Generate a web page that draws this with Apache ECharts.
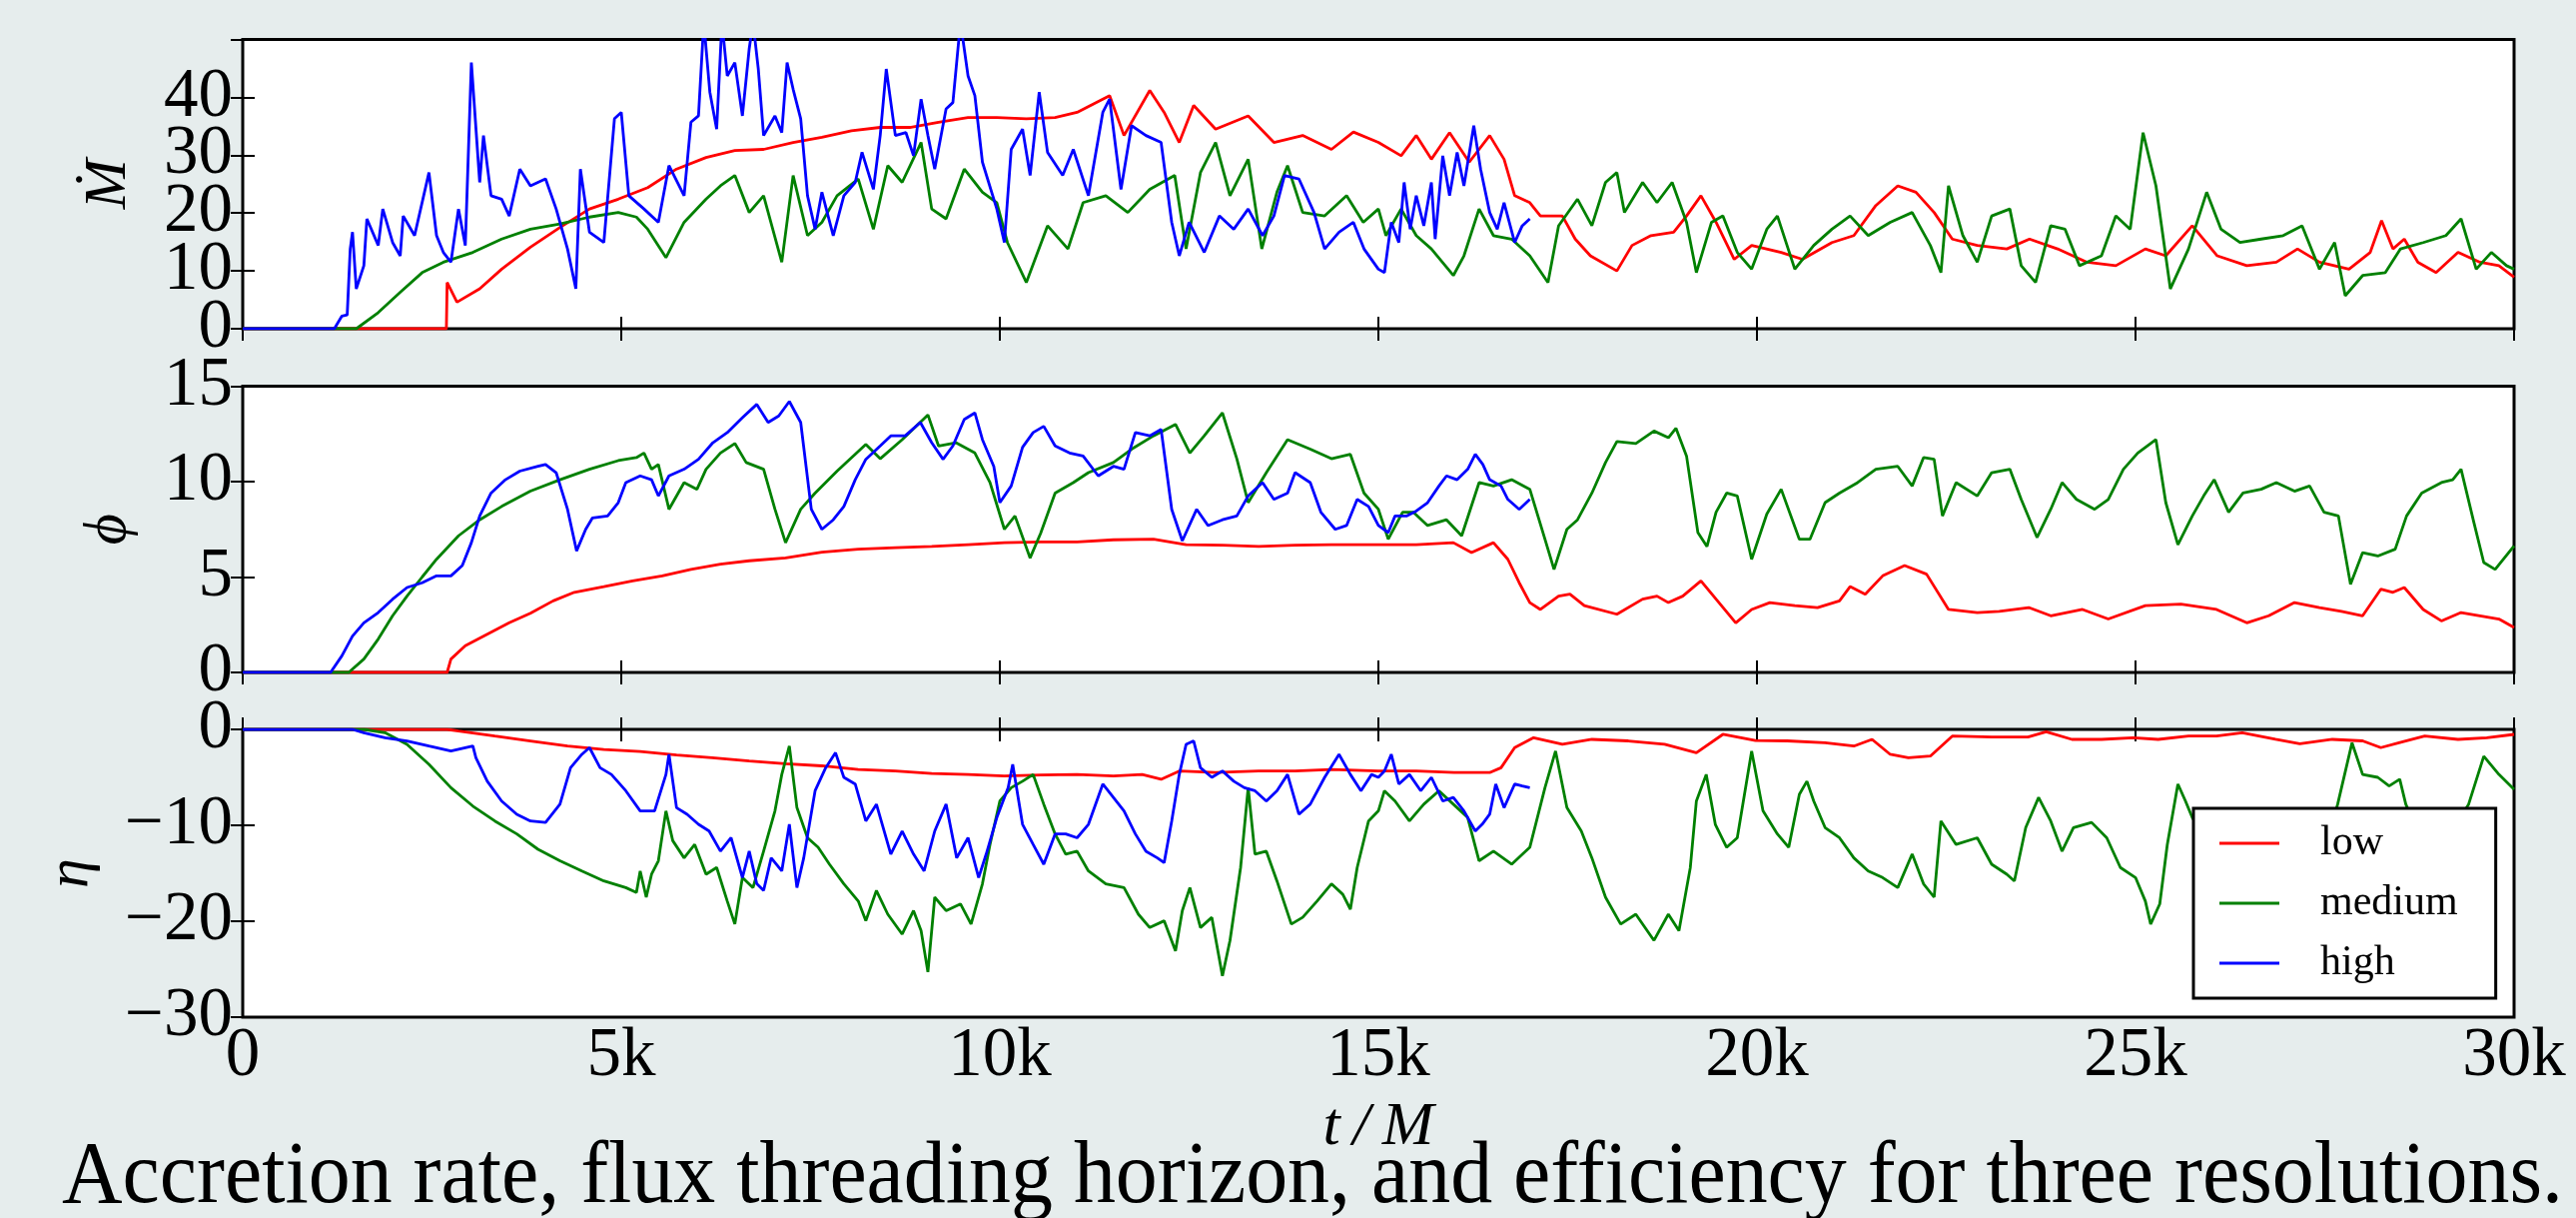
<!DOCTYPE html>
<html>
<head>
<meta charset="utf-8">
<script src="https://cdn.jsdelivr.net/npm/echarts@6/dist/echarts.min.js"></script>
<style>
html, body { margin: 0; padding: 0; background: #e6eded; }
#chart { width: 2579px; height: 1219px; }
</style>
</head>
<body>
<div id="chart"></div>
<script>
// time in units of 1000 M
const resolutions = ['low', 'medium', 'high'];
const colors = ['#ff0000', '#008000', '#0000ff'];
const xTicks = [0, 5, 10, 15, 20, 25, 30];

// accretion rate (Mdot)
const mdotLow = [[0,0],[2.69,0],[2.7,8.0],[2.83,4.6],[3.13,6.9],[3.42,10.3],[3.8,14.1],[4.19,17.5],[4.58,20.7],[4.96,22.4],[5.35,24.4],[5.73,27.6],[6.12,29.6],[6.5,30.8],[6.88,31.0],[7.27,32.2],[7.65,33.1],[8.04,34.2],[8.42,34.8],[8.81,34.8],[9.19,35.7],[9.58,36.5],[9.96,36.5],[10.35,36.3],[10.73,36.5],[11.02,37.4],[11.45,40.3],[11.64,33.4],[11.98,41.2],[12.17,37.4],[12.37,32.2],[12.56,38.6],[12.85,34.5],[13.28,36.8],[13.62,32.2],[14.0,33.4],[14.38,31.0],[14.67,34.0],[15.0,32.2],[15.3,29.9],[15.5,33.4],[15.7,29.3],[15.94,33.9],[16.2,28.8],[16.47,33.4],[16.66,29.3],[16.8,23.0],[17.0,21.8],[17.14,19.5],[17.43,19.5],[17.6,15.5],[17.8,12.6],[18.15,10.0],[18.35,14.4],[18.6,16.1],[18.9,16.7],[19.07,19.5],[19.26,23.0],[19.46,18.4],[19.7,12.0],[19.93,14.4],[20.32,13.2],[20.6,12.0],[20.99,14.9],[21.28,16.1],[21.57,21.3],[21.86,24.7],[22.1,23.6],[22.34,20.1],[22.58,15.5],[22.91,14.4],[23.3,13.8],[23.6,15.5],[23.97,13.8],[24.36,11.5],[24.74,10.9],[25.13,13.8],[25.4,12.6],[25.75,17.8],[26.08,12.6],[26.47,10.9],[26.86,11.5],[27.14,13.8],[27.43,11.5],[27.82,10.3],[28.1,13.2],[28.25,18.7],[28.4,13.8],[28.55,15.5],[28.73,11.5],[28.97,9.7],[29.26,13.2],[29.55,11.5],[29.8,10.9],[30.0,8.9]];
const mdotMed = [[0,0],[1.5,0],[1.79,2.8],[2.08,6.3],[2.37,9.7],[2.65,11.5],[3.04,13.2],[3.42,15.5],[3.8,17.2],[4.19,18.1],[4.58,19.3],[4.96,20.1],[5.2,19.3],[5.35,17.2],[5.59,12.3],[5.83,18.4],[6.12,22.4],[6.31,24.7],[6.5,26.5],[6.69,20.1],[6.88,23.0],[7.12,11.5],[7.27,26.5],[7.46,16.1],[7.65,18.4],[7.85,23.0],[8.13,25.9],[8.33,17.2],[8.52,28.2],[8.71,25.3],[8.96,32.2],[9.1,20.7],[9.29,19.0],[9.53,27.6],[9.77,23.6],[9.96,21.8],[10.1,14.9],[10.35,8.0],[10.63,17.8],[10.9,13.8],[11.1,21.8],[11.4,23.0],[11.69,20.1],[11.98,24.1],[12.31,26.5],[12.46,13.8],[12.65,27.0],[12.85,32.2],[13.04,23.0],[13.28,29.3],[13.46,13.8],[13.66,23.6],[13.8,28.2],[14.0,20.1],[14.29,19.5],[14.58,23.0],[14.8,18.4],[15.0,20.7],[15.1,16.1],[15.3,20.7],[15.5,16.1],[15.7,13.8],[15.99,9.2],[16.13,12.6],[16.33,20.7],[16.52,16.1],[16.76,15.5],[17.0,12.6],[17.24,8.0],[17.38,17.8],[17.63,22.4],[17.82,17.8],[18.0,25.3],[18.15,27.0],[18.25,20.1],[18.49,25.3],[18.68,21.8],[18.88,25.3],[19.07,18.4],[19.2,9.7],[19.4,18.4],[19.55,19.5],[19.74,13.2],[19.93,10.3],[20.13,17.2],[20.27,19.5],[20.5,10.3],[20.75,14.4],[20.99,17.2],[21.23,19.5],[21.47,16.1],[21.76,18.4],[22.05,20.1],[22.29,14.4],[22.43,9.7],[22.53,24.7],[22.72,16.1],[22.91,11.5],[23.1,19.5],[23.34,20.7],[23.49,10.9],[23.68,8.0],[23.88,17.8],[24.07,17.2],[24.26,10.9],[24.55,12.6],[24.74,19.5],[24.93,17.2],[25.1,33.9],[25.27,24.7],[25.46,6.9],[25.7,13.8],[25.94,23.6],[26.13,17.2],[26.38,14.9],[26.66,15.5],[26.95,16.1],[27.2,17.8],[27.43,10.3],[27.63,14.9],[27.77,5.7],[28.0,9.2],[28.3,9.7],[28.5,13.8],[28.8,14.9],[29.1,16.1],[29.3,19.0],[29.5,10.3],[29.7,13.2],[29.9,10.9],[30.0,10.3]];
const mdotHigh = [[0,0],[1.21,0],[1.31,2.2],[1.38,2.4],[1.42,13.8],[1.45,16.7],[1.5,6.9],[1.6,10.9],[1.64,19.0],[1.79,14.4],[1.85,20.7],[1.98,14.9],[2.08,12.6],[2.12,19.5],[2.27,16.1],[2.46,27.0],[2.56,16.1],[2.65,13.2],[2.75,11.5],[2.85,20.7],[2.94,14.4],[3.02,46.0],[3.13,25.3],[3.18,33.4],[3.28,23.0],[3.42,22.4],[3.52,19.5],[3.66,27.6],[3.8,24.7],[4.0,25.9],[4.14,20.7],[4.29,13.8],[4.4,6.9],[4.46,27.6],[4.58,16.7],[4.77,14.9],[4.91,36.3],[5.0,37.4],[5.1,23.0],[5.3,20.7],[5.49,18.4],[5.63,28.2],[5.83,23.0],[5.92,35.7],[6.02,36.8],[6.09,53],[6.17,40.9],[6.26,34.5],[6.33,53],[6.4,43.7],[6.5,46.0],[6.6,36.8],[6.69,48.4],[6.74,53],[6.81,44.9],[6.88,33.4],[7.03,36.8],[7.12,33.9],[7.19,46.0],[7.27,41.4],[7.37,36.3],[7.46,23.0],[7.56,17.2],[7.65,23.6],[7.8,16.1],[7.94,23.0],[8.09,25.3],[8.18,30.5],[8.33,24.1],[8.42,33.4],[8.5,44.9],[8.62,33.4],[8.76,33.9],[8.86,29.9],[8.96,39.7],[9.05,33.4],[9.14,27.6],[9.29,38.0],[9.38,39.1],[9.48,53],[9.58,43.7],[9.67,40.3],[9.77,28.8],[9.96,20.7],[10.06,14.9],[10.15,31.0],[10.3,34.5],[10.4,26.5],[10.52,40.9],[10.63,30.5],[10.83,26.5],[10.97,31.0],[11.17,23.0],[11.36,37.4],[11.45,39.7],[11.6,24.1],[11.74,35.1],[11.93,33.4],[12.13,32.2],[12.27,18.4],[12.37,12.6],[12.5,18.4],[12.7,13.2],[12.9,19.5],[13.09,17.2],[13.28,20.7],[13.47,16.1],[13.62,19.5],[13.76,26.5],[13.95,25.9],[14.15,20.1],[14.29,13.8],[14.48,16.7],[14.67,18.4],[14.81,13.8],[15.0,10.3],[15.08,9.7],[15.17,18.4],[15.27,14.9],[15.34,25.3],[15.42,17.2],[15.5,23.0],[15.6,17.8],[15.7,25.3],[15.75,15.5],[15.85,29.9],[15.94,23.0],[16.04,30.5],[16.13,24.7],[16.26,35.1],[16.35,27.6],[16.47,20.1],[16.57,17.2],[16.66,21.8],[16.8,14.9],[16.9,17.8],[17.0,19.0]];

// flux threading the horizon (phi)
const phiLow = [[0,0],[2.7,0],[2.75,0.7],[2.94,1.4],[3.23,2.0],[3.52,2.6],[3.8,3.1],[4.1,3.75],[4.38,4.2],[4.77,4.5],[5.15,4.8],[5.54,5.06],[5.92,5.4],[6.31,5.67],[6.69,5.85],[7.17,6.0],[7.65,6.3],[8.13,6.46],[8.62,6.54],[9.1,6.6],[9.58,6.7],[10.06,6.8],[10.54,6.84],[11.02,6.84],[11.5,6.95],[12.03,6.98],[12.46,6.7],[12.94,6.67],[13.42,6.6],[13.9,6.67],[14.38,6.7],[15.0,6.7],[15.5,6.7],[15.99,6.8],[16.23,6.28],[16.52,6.8],[16.71,5.93],[16.86,4.7],[17.0,3.66],[17.14,3.3],[17.38,4.0],[17.53,4.1],[17.72,3.5],[18.15,3.05],[18.49,3.84],[18.68,4.0],[18.83,3.66],[19.02,4.0],[19.26,4.8],[19.46,3.84],[19.72,2.6],[19.93,3.3],[20.17,3.66],[20.5,3.5],[20.8,3.4],[21.09,3.75],[21.23,4.5],[21.43,4.1],[21.66,5.06],[21.95,5.6],[22.24,5.15],[22.53,3.3],[22.91,3.14],[23.2,3.2],[23.59,3.4],[23.88,2.97],[24.3,3.3],[24.64,2.8],[25.13,3.5],[25.6,3.58],[26.07,3.3],[26.47,2.6],[26.76,2.97],[27.1,3.66],[27.43,3.4],[27.72,3.2],[28.0,2.97],[28.24,4.36],[28.4,4.2],[28.55,4.45],[28.8,3.3],[29.04,2.7],[29.3,3.14],[29.55,2.97],[29.8,2.8],[30.0,2.36]];
const phiMed = [[0,0],[1.4,0],[1.6,0.7],[1.79,1.75],[1.98,2.97],[2.17,4.0],[2.37,5.0],[2.56,5.93],[2.85,7.16],[3.13,8.0],[3.42,8.7],[3.8,9.5],[4.19,10.1],[4.58,10.65],[4.96,11.1],[5.2,11.26],[5.3,11.5],[5.4,10.65],[5.49,10.9],[5.63,8.55],[5.83,9.95],[6.0,9.6],[6.12,10.65],[6.31,11.5],[6.5,12.0],[6.65,11.0],[6.88,10.65],[7.03,8.55],[7.17,6.8],[7.37,8.55],[7.56,9.4],[7.85,10.55],[8.23,11.95],[8.42,11.2],[8.71,12.2],[9.05,13.5],[9.19,11.87],[9.42,12.04],[9.67,11.5],[9.87,9.95],[10.06,7.5],[10.2,8.2],[10.4,6.0],[10.54,7.3],[10.73,9.4],[10.97,9.95],[11.17,10.47],[11.5,11.0],[11.74,11.7],[12.03,12.4],[12.32,13.0],[12.51,11.5],[12.7,12.4],[12.94,13.6],[13.13,11.2],[13.28,8.9],[13.52,10.47],[13.8,12.2],[14.1,11.7],[14.38,11.2],[14.63,11.43],[14.81,9.4],[15.0,8.55],[15.13,6.98],[15.32,8.4],[15.46,8.4],[15.65,7.7],[15.9,8.0],[16.1,7.16],[16.33,9.95],[16.52,9.77],[16.76,10.1],[17.0,9.6],[17.2,6.98],[17.32,5.4],[17.49,7.5],[17.63,8.0],[17.82,9.4],[18.0,11.0],[18.15,12.1],[18.4,12.0],[18.64,12.65],[18.83,12.3],[18.93,12.8],[19.07,11.34],[19.22,7.33],[19.34,6.6],[19.46,8.4],[19.6,9.4],[19.74,9.25],[19.93,5.93],[20.13,8.3],[20.32,9.6],[20.56,6.98],[20.7,6.98],[20.9,8.9],[21.09,9.4],[21.33,9.95],[21.57,10.65],[21.86,10.8],[22.05,9.77],[22.2,11.26],[22.34,11.17],[22.45,8.2],[22.63,9.95],[22.91,9.25],[23.1,10.47],[23.34,10.65],[23.49,9.07],[23.7,7.07],[23.88,8.55],[24.03,9.95],[24.22,9.07],[24.46,8.55],[24.64,9.07],[24.84,10.65],[25.03,11.5],[25.27,12.2],[25.4,8.9],[25.56,6.7],[25.75,8.2],[25.9,9.25],[26.04,10.1],[26.23,8.4],[26.42,9.4],[26.66,9.6],[26.86,9.95],[27.1,9.5],[27.3,9.77],[27.49,8.4],[27.68,8.2],[27.84,4.62],[28.0,6.28],[28.2,6.1],[28.43,6.46],[28.58,8.2],[28.78,9.4],[29.04,9.95],[29.19,10.1],[29.3,10.65],[29.47,7.85],[29.6,5.76],[29.75,5.4],[30.0,6.63]];
const phiHigh = [[0,0],[1.16,0],[1.31,0.87],[1.45,1.9],[1.6,2.6],[1.79,3.14],[1.98,3.84],[2.17,4.45],[2.37,4.7],[2.56,5.06],[2.75,5.06],[2.9,5.6],[3.02,6.8],[3.13,8.2],[3.28,9.4],[3.47,10.1],[3.66,10.55],[3.9,10.8],[4.0,10.9],[4.14,10.47],[4.29,8.55],[4.41,6.37],[4.53,7.5],[4.62,8.1],[4.82,8.2],[4.96,8.9],[5.06,9.95],[5.25,10.3],[5.4,10.1],[5.49,9.25],[5.63,10.3],[5.83,10.65],[6.02,11.17],[6.21,12.04],[6.4,12.57],[6.6,13.35],[6.79,14.05],[6.94,13.1],[7.08,13.44],[7.22,14.2],[7.37,13.1],[7.51,8.55],[7.65,7.5],[7.8,8.0],[7.94,8.7],[8.09,10.1],[8.23,11.17],[8.42,11.87],[8.56,12.4],[8.75,12.4],[8.95,13.1],[9.1,12.04],[9.25,11.17],[9.38,11.87],[9.53,13.26],[9.67,13.6],[9.77,12.2],[9.92,10.8],[10.0,8.9],[10.15,9.77],[10.3,11.8],[10.44,12.57],[10.58,12.9],[10.73,11.87],[10.92,11.5],[11.1,11.34],[11.3,10.3],[11.5,10.8],[11.64,10.65],[11.79,12.57],[11.98,12.4],[12.13,12.74],[12.27,8.55],[12.41,6.9],[12.6,8.55],[12.75,7.7],[12.94,8.0],[13.13,8.2],[13.28,9.25],[13.47,9.95],[13.62,9.07],[13.8,9.4],[13.9,10.47],[14.1,9.95],[14.24,8.4],[14.43,7.5],[14.58,7.7],[14.72,9.07],[14.87,8.7],[15.0,7.7],[15.13,7.33],[15.22,8.2],[15.37,8.2],[15.5,8.46],[15.65,8.9],[15.8,9.77],[15.9,10.3],[16.04,10.1],[16.18,10.65],[16.28,11.43],[16.38,10.9],[16.47,10.1],[16.62,9.77],[16.71,9.07],[16.86,8.55],[17.0,9.07]];

// efficiency (eta)
const etaLow = [[0,0],[2.7,0],[2.85,-0.17],[3.33,-0.7],[3.8,-1.2],[4.29,-1.74],[4.77,-2.1],[5.25,-2.3],[5.73,-2.67],[6.2,-2.95],[6.69,-3.3],[7.17,-3.58],[7.65,-3.8],[8.13,-4.17],[8.62,-4.34],[9.1,-4.6],[9.58,-4.7],[10.06,-4.86],[10.54,-4.76],[11.02,-4.7],[11.5,-4.86],[11.88,-4.7],[12.13,-5.2],[12.37,-4.34],[12.85,-4.5],[13.42,-4.34],[13.9,-4.34],[14.38,-4.17],[15.0,-4.34],[15.5,-4.34],[16.0,-4.5],[16.47,-4.5],[16.62,-4.0],[16.8,-1.9],[17.05,-0.87],[17.43,-1.56],[17.82,-1.04],[18.3,-1.2],[18.78,-1.56],[19.2,-2.43],[19.55,-0.52],[19.98,-1.15],[20.4,-1.2],[20.9,-1.39],[21.28,-1.74],[21.52,-1.04],[21.76,-2.6],[22.0,-2.95],[22.29,-2.78],[22.58,-0.7],[23.1,-0.8],[23.58,-0.8],[23.82,-0.24],[24.16,-1.04],[24.55,-1.04],[24.97,-0.87],[25.3,-1.04],[25.7,-0.7],[26.07,-0.7],[26.41,-0.35],[26.85,-1.04],[27.17,-1.5],[27.6,-1.04],[28.0,-1.2],[28.24,-1.9],[28.48,-1.39],[28.82,-0.7],[29.26,-1.04],[29.64,-0.87],[30.0,-0.52]];
const etaMed = [[0,0],[1.6,0],[1.88,-0.35],[2.17,-1.56],[2.46,-3.65],[2.75,-6.08],[3.04,-8.0],[3.33,-9.55],[3.62,-10.9],[3.9,-12.5],[4.19,-13.7],[4.48,-14.76],[4.77,-15.8],[5.06,-16.5],[5.2,-17.0],[5.25,-14.76],[5.33,-17.5],[5.4,-15.1],[5.49,-13.7],[5.59,-8.5],[5.68,-11.6],[5.83,-13.4],[5.97,-12.0],[6.12,-15.1],[6.26,-14.4],[6.4,-17.9],[6.5,-20.3],[6.6,-15.45],[6.74,-16.5],[6.88,-12.7],[7.03,-8.5],[7.12,-4.7],[7.22,-1.74],[7.32,-8.16],[7.46,-11.3],[7.6,-12.3],[7.75,-14.06],[7.94,-16.1],[8.13,-17.9],[8.23,-19.96],[8.37,-16.8],[8.52,-19.27],[8.71,-21.35],[8.86,-18.9],[8.96,-21.0],[9.05,-25.3],[9.14,-17.5],[9.29,-18.9],[9.48,-18.2],[9.62,-20.3],[9.77,-16.1],[9.87,-12.0],[10.0,-7.47],[10.15,-6.08],[10.3,-5.4],[10.44,-4.7],[10.58,-7.8],[10.73,-10.9],[10.87,-13.0],[11.02,-12.7],[11.17,-14.76],[11.4,-16.1],[11.64,-16.5],[11.83,-19.27],[11.98,-20.66],[12.17,-19.96],[12.32,-23.1],[12.41,-18.9],[12.51,-16.5],[12.65,-20.66],[12.8,-19.6],[12.94,-25.7],[13.04,-22.0],[13.18,-14.4],[13.28,-6.08],[13.37,-13.0],[13.52,-12.7],[13.66,-15.8],[13.85,-20.3],[14.0,-19.6],[14.19,-17.9],[14.38,-16.1],[14.53,-17.2],[14.63,-18.75],[14.72,-14.4],[14.87,-9.55],[15.0,-8.5],[15.08,-6.4],[15.22,-7.47],[15.41,-9.55],[15.6,-7.8],[15.8,-6.4],[15.99,-7.8],[16.18,-9.2],[16.33,-13.7],[16.52,-12.7],[16.76,-14.06],[17.0,-12.3],[17.2,-6.08],[17.34,-2.26],[17.49,-8.16],[17.68,-10.6],[17.82,-13.4],[18.0,-17.5],[18.2,-20.3],[18.4,-19.27],[18.64,-22.0],[18.83,-19.27],[18.97,-21.0],[19.12,-14.4],[19.2,-7.47],[19.33,-4.7],[19.45,-9.9],[19.6,-12.3],[19.74,-11.3],[19.93,-2.26],[20.08,-8.5],[20.27,-10.9],[20.42,-12.3],[20.56,-6.77],[20.66,-5.4],[20.75,-7.47],[20.9,-10.24],[21.09,-11.3],[21.28,-13.4],[21.47,-14.76],[21.66,-15.45],[21.86,-16.5],[22.05,-13.0],[22.2,-16.1],[22.34,-17.5],[22.43,-9.55],[22.63,-12.0],[22.91,-11.3],[23.1,-14.06],[23.3,-15.1],[23.4,-15.8],[23.55,-10.24],[23.72,-7.1],[23.88,-9.55],[24.03,-12.7],[24.18,-10.24],[24.42,-9.7],[24.62,-11.3],[24.8,-14.4],[25.0,-15.45],[25.13,-17.9],[25.2,-20.3],[25.32,-18.2],[25.42,-12.0],[25.56,-5.7],[25.66,-7.47],[25.75,-9.2],[26.0,-12.0],[26.4,-14.5],[26.8,-16.0],[27.2,-15.0],[27.5,-12.5],[27.67,-7.8],[27.86,-1.4],[28.0,-4.7],[28.2,-5.0],[28.35,-5.9],[28.49,-5.2],[28.57,-7.8],[28.8,-12.0],[29.1,-11.5],[29.4,-7.8],[29.6,-2.8],[29.8,-4.7],[30.0,-6.25]];
const etaHigh = [[0,0],[1.45,0],[1.6,-0.35],[1.88,-0.87],[2.17,-1.2],[2.46,-1.74],[2.75,-2.26],[3.04,-1.74],[3.08,-2.95],[3.23,-5.4],[3.42,-7.47],[3.62,-8.85],[3.8,-9.55],[4.0,-9.7],[4.19,-7.8],[4.33,-4.0],[4.48,-2.6],[4.58,-1.9],[4.72,-4.0],[4.87,-4.7],[5.06,-6.4],[5.25,-8.5],[5.44,-8.5],[5.59,-4.7],[5.63,-2.6],[5.73,-8.16],[5.87,-8.85],[6.02,-9.9],[6.16,-10.6],[6.31,-12.7],[6.45,-11.3],[6.6,-15.45],[6.69,-12.7],[6.79,-16.1],[6.88,-16.8],[6.98,-13.4],[7.12,-14.76],[7.22,-9.9],[7.32,-16.5],[7.41,-13.4],[7.56,-6.4],[7.7,-4.0],[7.83,-2.43],[7.94,-5.0],[8.09,-5.7],[8.23,-9.55],[8.37,-7.8],[8.56,-13.0],[8.71,-10.6],[8.86,-13.0],[9.0,-14.76],[9.14,-10.6],[9.29,-7.8],[9.43,-13.4],[9.58,-11.3],[9.72,-15.45],[9.82,-13.0],[9.96,-9.2],[10.11,-6.08],[10.17,-3.65],[10.3,-9.9],[10.44,-12.0],[10.58,-14.06],[10.73,-10.9],[10.87,-10.9],[11.02,-11.3],[11.17,-9.9],[11.36,-5.7],[11.5,-7.1],[11.64,-8.5],[11.79,-10.9],[11.93,-12.7],[12.08,-13.4],[12.17,-13.9],[12.27,-9.55],[12.37,-4.7],[12.46,-1.56],[12.56,-1.2],[12.65,-4.0],[12.8,-5.0],[12.94,-4.34],[13.09,-5.4],[13.23,-6.08],[13.37,-6.4],[13.52,-7.47],[13.66,-6.4],[13.8,-4.7],[13.95,-8.85],[14.1,-7.8],[14.29,-5.0],[14.48,-2.6],[14.63,-4.7],[14.77,-6.4],[14.91,-4.7],[15.0,-5.0],[15.08,-4.34],[15.17,-2.6],[15.27,-5.7],[15.41,-4.7],[15.56,-6.4],[15.7,-5.0],[15.85,-7.47],[15.99,-7.1],[16.13,-8.5],[16.28,-10.6],[16.37,-9.9],[16.47,-8.85],[16.55,-5.7],[16.66,-8.16],[16.8,-5.7],[16.9,-5.9],[17.0,-6.08]];

const panelNames = ['\u1E40', '\u03D5', '\u03B7'];
const panelRanges = [[0, 50], [0, 15], [-30, 0]];
const panelIntervals = [10, 5, 10];
const panelData = [[mdotLow, mdotMed, mdotHigh], [phiLow, phiMed, phiHigh], [etaLow, etaMed, etaHigh]];
const caption = 'Accretion rate, flux threading horizon, and efficiency for three resolutions.';

const serif = "'Liberation Serif', 'DejaVu Serif', serif";
const panelBoxes = [{ top: 39.5, height: 289.5 }, { top: 386.5, height: 286.5 }, { top: 730, height: 288 }];
const nameGaps = [104, 104, 142];

const chart = echarts.init(document.getElementById('chart'));

const tickStyle = { inside: true, length: 12, lineStyle: { color: '#000', width: 2 } };
const minus = v => String(v).replace('-', '\u2212');
const labelFont = { color: '#000', fontSize: 69, fontFamily: serif };

const grid = [];
const xAxis = [];
const yAxis = [];
const series = [];

panelBoxes.forEach((box, i) => {
  grid.push({
    left: 243, right: 62, top: box.top, height: box.height,
    show: true, backgroundColor: '#fff', borderColor: '#000', borderWidth: 3
  });
  const isLast = i === panelBoxes.length - 1;
  ['bottom', 'top'].forEach(pos => {
    xAxis.push({
      gridIndex: i, type: 'value', position: pos,
      min: xTicks[0], max: xTicks[xTicks.length - 1], interval: 5,
      axisLine: { show: false }, axisTick: tickStyle, splitLine: { show: false },
      axisLabel: Object.assign({
        show: isLast && pos === 'bottom', margin: 5,
        showMinLabel: true, showMaxLabel: true, hideOverlap: false,
        formatter: v => v === 0 ? '0' : v + 'k'
      }, labelFont),
      name: isLast && pos === 'bottom' ? 't\u2009/\u2009M' : '',
      nameLocation: 'middle', nameGap: 80,
      nameTextStyle: { color: '#000', fontSize: 62, fontStyle: 'italic', fontFamily: serif }
    });
  });
  ['left', 'right'].forEach(pos => {
    yAxis.push({
      gridIndex: i, type: 'value', position: pos,
      min: panelRanges[i][0], max: panelRanges[i][1], interval: panelIntervals[i],
      axisLine: { show: false }, axisTick: tickStyle, splitLine: { show: false },
      axisLabel: Object.assign({
        show: pos === 'left', margin: 10, hideOverlap: false,
        // top panel: 0 is drawn by its own axis below, 50 is not labelled
        showMinLabel: i === 0 ? false : true, showMaxLabel: true,
        formatter: v => (i === 0 && v === 50) ? '' : minus(v)
      }, labelFont),
      name: pos === 'left' ? panelNames[i] : '',
      nameLocation: 'middle', nameRotate: 90, nameGap: nameGaps[i],
      nameTextStyle: { color: '#000', fontSize: 60, fontStyle: 'italic', fontFamily: serif }
    });
  });
  panelData[i].forEach((data, k) => {
    series.push({
      name: resolutions[k], type: 'line',
      xAxisIndex: 2 * i, yAxisIndex: 2 * i,
      data: data, showSymbol: false, clip: true,
      color: colors[k],
      lineStyle: { color: colors[k], width: 2.8 },
      z: 2 + k
    });
  });
});

// extra label-only axis for the "0" of the top panel (it overlaps "10")
yAxis.push({
  gridIndex: 0, type: 'value', position: 'left',
  min: panelRanges[0][0], max: panelRanges[0][1], interval: panelIntervals[0],
  axisLine: { show: false }, axisTick: { show: false }, splitLine: { show: false },
  axisLabel: Object.assign({
    margin: 10, showMinLabel: true, showMaxLabel: false, hideOverlap: false,
    formatter: v => v === 0 ? '0' : ''
  }, labelFont)
});

// caption is drawn condensed to fit the width like in the original slide
const ctx = document.createElement('canvas').getContext('2d');
ctx.font = "88px 'Liberation Serif'";
const captionScale = 2504 / ctx.measureText(caption).width;

chart.setOption({
  backgroundColor: '#e6eded',
  animation: false,
  grid: grid,
  xAxis: xAxis,
  yAxis: yAxis,
  legend: {
    data: resolutions,
    orient: 'vertical',
    left: 2196, top: 809,
    icon: 'rect', itemWidth: 60, itemHeight: 3, itemGap: 18,
    padding: [14, 38, 14, 26],
    backgroundColor: '#fff', borderColor: '#000', borderWidth: 3, borderRadius: 0,
    selectedMode: false,
    textStyle: { color: '#000', fontSize: 42, fontFamily: serif, lineHeight: 42, padding: [0, 0, 0, 36] },
    z: 10
  },
  graphic: [{
    type: 'text', left: 62, top: 1136, scaleX: captionScale,
    style: { text: caption, font: "88px 'Liberation Serif'", fill: '#000' }
  }],
  series: series
});

window.addEventListener('resize', () => chart.resize());
</script>
</body>
</html>
